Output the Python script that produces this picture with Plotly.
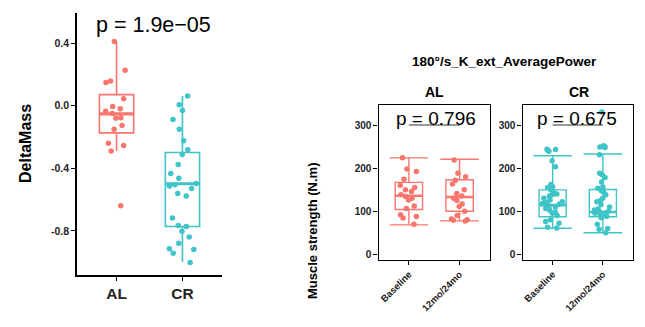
import plotly.graph_objects as go

W, H = 645, 327

# ---------------- Data: left panel (DeltaMass) ----------------
groups = ["AL", "CR"]
delta_al = [0.41, 0.226, 0.157, 0.148, 0.045, -0.006, -0.02, -0.035, -0.05,
            -0.077, -0.08, -0.127, -0.15, -0.24, -0.255, -0.29, -0.64]
delta_cr = [0.062, 0.006, -0.03, -0.088, -0.15, -0.224, -0.282, -0.312, -0.376,
            -0.434, -0.464, -0.497, -0.505, -0.514, -0.529, -0.561, -0.578,
            -0.718, -0.766, -0.772, -0.802, -0.84, -0.88, -0.914, -0.92, -0.944, -1.002]
# box statistics: lower whisker, q1, median, q3, upper whisker
delta_stats_al = [-0.29, -0.174, -0.052, 0.071, 0.41]
delta_stats_cr = [-1.0, -0.772, -0.499, -0.299, 0.062]
delta_tickvals = [-0.8, -0.4, 0.0, 0.4]
delta_ticktext = ["-0.8", "-0.4", "0.0", "0.4"]
delta_p = "p = 1.9e\u221205"

# ---------------- Data: right panels (Muscle strength) ----------------
timepoints = ["Baseline", "12mo/24mo"]
facets = ["AL", "CR"]
al_baseline = [224, 198, 192, 174, 160, 155, 150, 146, 138, 134, 130, 126, 112, 106, 92, 88, 84, 70]
al_followup = [219, 188, 180, 172, 163, 150, 141, 135, 130, 125, 117, 111, 100, 90, 82, 80, 79, 77]
cr_baseline = [244, 243, 241, 239, 217, 203, 162, 157, 155, 150, 145, 140, 138, 135, 130, 126,
               122, 120, 118, 116, 112, 110, 106, 102, 98, 95, 90, 80, 76, 72, 63, 61]
cr_followup = [330, 252, 250, 249, 248, 231, 188, 184, 178, 168, 156, 153, 148, 144, 138, 130,
               125, 122, 115, 110, 105, 103, 100, 98, 96, 95, 93, 92, 90, 88, 85, 70, 60, 58, 50]
al_baseline_stats = [68.4, 103.8, 136, 166.8, 223.8]
al_followup_stats = [77.6, 100, 133, 173, 220.7]
cr_baseline_stats = [60.5, 87, 114, 149.5, 228.7]
cr_followup_stats = [50, 87, 98, 150.5, 232.8]
strength_tickvals = [0, 100, 200, 300]
strength_ticktext = ["0", "100", "200", "300"]
strength_p = ["p = 0.796", "p = 0.675"]
panel_title = "180\u00b0/s_K_ext_AveragePower"

RED = "#F8766D"
CYAN = "#3FC4C7"
FONT = "Liberation Sans"


def px_x(p):
    return p / W


def px_y(p):
    return 1 - p / H


fig = go.Figure()


def add_box(xpos, stats, values, color, width, xa, ya, cap_hw=None, lw=1.6, mw=3.2, jitter=0.9):
    lower, q1, med, q3, upper = stats
    fig.add_trace(go.Box(
        x=[xpos], q1=[q1], median=[med], q3=[q3], lowerfence=[lower], upperfence=[upper],
        width=width, whiskerwidth=0, fillcolor="white", line=dict(color=color, width=lw),
        boxpoints=False, xaxis=xa, yaxis=ya, showlegend=False, hoverinfo="skip"))
    # thicker median line (ggplot style)
    fig.add_trace(go.Box(
        x=[xpos], q1=[med], median=[med], q3=[med], lowerfence=[med], upperfence=[med],
        width=width, whiskerwidth=0, fillcolor="rgba(0,0,0,0)", line=dict(color=color, width=mw),
        boxpoints=False, xaxis=xa, yaxis=ya, showlegend=False, hoverinfo="skip"))
    # jittered points
    fig.add_trace(go.Box(
        x0=xpos, y=values, boxpoints="all", jitter=jitter, pointpos=0, width=width,
        fillcolor="rgba(0,0,0,0)", line=dict(color="rgba(0,0,0,0)", width=0),
        marker=dict(color=color, size=5.5), xaxis=xa, yaxis=ya, showlegend=False,
        hoverinfo="y"))
    if cap_hw is not None:
        fig.add_trace(go.Scatter(
            x=[xpos, xpos], y=[lower, upper], mode="markers",
            marker=dict(size=1, color="rgba(0,0,0,0)"),
            error_y=dict(type="data", symmetric=False, array=[0, 0], arrayminus=[0, 0],
                         width=cap_hw, thickness=lw, color=color),
            xaxis=xa, yaxis=ya, showlegend=False, hoverinfo="skip"))


# Left panel
add_box(1, delta_stats_al, delta_al, RED, 0.52, "x", "y", jitter=0.9)
add_box(2, delta_stats_cr, delta_cr, CYAN, 0.52, "x", "y", jitter=0.9)

# Right panels
add_box(1, al_baseline_stats, al_baseline, RED, 0.54, "x2", "y2", cap_hw=19.3, lw=1.4, mw=2.6, jitter=0.8)
add_box(2, al_followup_stats, al_followup, RED, 0.54, "x2", "y2", cap_hw=19.3, lw=1.4, mw=2.6, jitter=0.8)
add_box(1, cr_baseline_stats, cr_baseline, CYAN, 0.54, "x3", "y3", cap_hw=19.3, lw=1.4, mw=2.6, jitter=0.8)
add_box(2, cr_followup_stats, cr_followup, CYAN, 0.54, "x3", "y3", cap_hw=19.3, lw=1.4, mw=2.6, jitter=0.8)

axis_common = dict(showgrid=False, zeroline=False, showline=True, linecolor="black",
                   ticks="outside", tickcolor="black", fixedrange=True)

tick_bold = dict(family=FONT, weight="bold", color="#222222")

fig.update_layout(
    width=W, height=H, margin=dict(l=0, r=0, t=0, b=0),
    paper_bgcolor="white", plot_bgcolor="white", boxmode="overlay",
    font=dict(family=FONT, color="black"),
    xaxis=dict(domain=[px_x(77), px_x(222)], range=[0.4, 2.6], tickvals=[1, 2], ticktext=groups,
               anchor="y", linewidth=1.6, ticklen=4, tickwidth=1.4,
               tickfont=dict(size=15.5, **tick_bold), **axis_common),
    yaxis=dict(domain=[px_y(275), px_y(13)], range=[-1.0824, 0.5925], tickvals=delta_tickvals,
               ticktext=delta_ticktext, anchor="x", linewidth=1.6, ticklen=4, tickwidth=1.4,
               tickfont=dict(size=10.5, **tick_bold), **axis_common),
    xaxis2=dict(domain=[px_x(378.5), px_x(490)], range=[0.4, 2.6], tickvals=[1, 2],
                ticktext=timepoints, tickangle=-45, anchor="y2", mirror=True, linewidth=1.2,
                ticklen=4, tickwidth=1.2, tickfont=dict(size=9.5, **tick_bold), **axis_common),
    yaxis2=dict(domain=[px_y(260), px_y(105)], range=[-13.2, 346.4], tickvals=strength_tickvals,
                ticktext=strength_ticktext, anchor="x2", mirror=True, linewidth=1.2,
                ticklen=4, tickwidth=1.2, tickfont=dict(size=10, **tick_bold), **axis_common),
    xaxis3=dict(domain=[px_x(522.5), px_x(633)], range=[0.4, 2.6], tickvals=[1, 2],
                ticktext=timepoints, tickangle=-45, anchor="y3", mirror=True, linewidth=1.2,
                ticklen=4, tickwidth=1.2, tickfont=dict(size=9.5, **tick_bold), **axis_common),
    yaxis3=dict(domain=[px_y(260), px_y(105)], range=[-13.2, 346.4], tickvals=strength_tickvals,
                ticktext=strength_ticktext, anchor="x3", mirror=True, linewidth=1.2,
                ticklen=4, tickwidth=1.2, tickfont=dict(size=10, **tick_bold), **axis_common),
)

# comparison brackets
for xa, ya in (("x2", "y2"), ("x3", "y3")):
    fig.add_shape(type="line", xref=xa, yref=ya, x0=1, x1=2, y0=300, y1=300,
                  line=dict(color="#333333", width=1))

ann = []
ann.append(dict(text=delta_p, x=px_x(153), y=px_y(25), font=dict(size=21.5, family=FONT, color="black")))
ann.append(dict(text="<b>DeltaMass</b>", x=px_x(25), y=px_y(144), textangle=-90,
                font=dict(size=16, family=FONT, color="black")))
ann.append(dict(text="<b>" + panel_title + "</b>", x=px_x(505), y=px_y(61.5),
                font=dict(size=13.5, family=FONT, color="black")))
ann.append(dict(text="<b>" + facets[0] + "</b>", x=px_x(434.5), y=px_y(92),
                font=dict(size=14, family=FONT, color="black")))
ann.append(dict(text="<b>" + facets[1] + "</b>", x=px_x(578.5), y=px_y(92),
                font=dict(size=14, family=FONT, color="black")))
ann.append(dict(text=strength_p[0], x=px_x(436), y=px_y(118.5),
                font=dict(size=19, family=FONT, color="black")))
ann.append(dict(text=strength_p[1], x=px_x(577), y=px_y(118.5),
                font=dict(size=19, family=FONT, color="black")))
ann.append(dict(text="<b>Muscle strength (N.m)</b>", x=px_x(312), y=px_y(231), textangle=-90,
                font=dict(size=13, family=FONT, color="black")))
for a in ann:
    a.update(xref="paper", yref="paper", showarrow=False, xanchor="center", yanchor="middle")
    fig.add_annotation(**a)

fig.write_html("out.html")
